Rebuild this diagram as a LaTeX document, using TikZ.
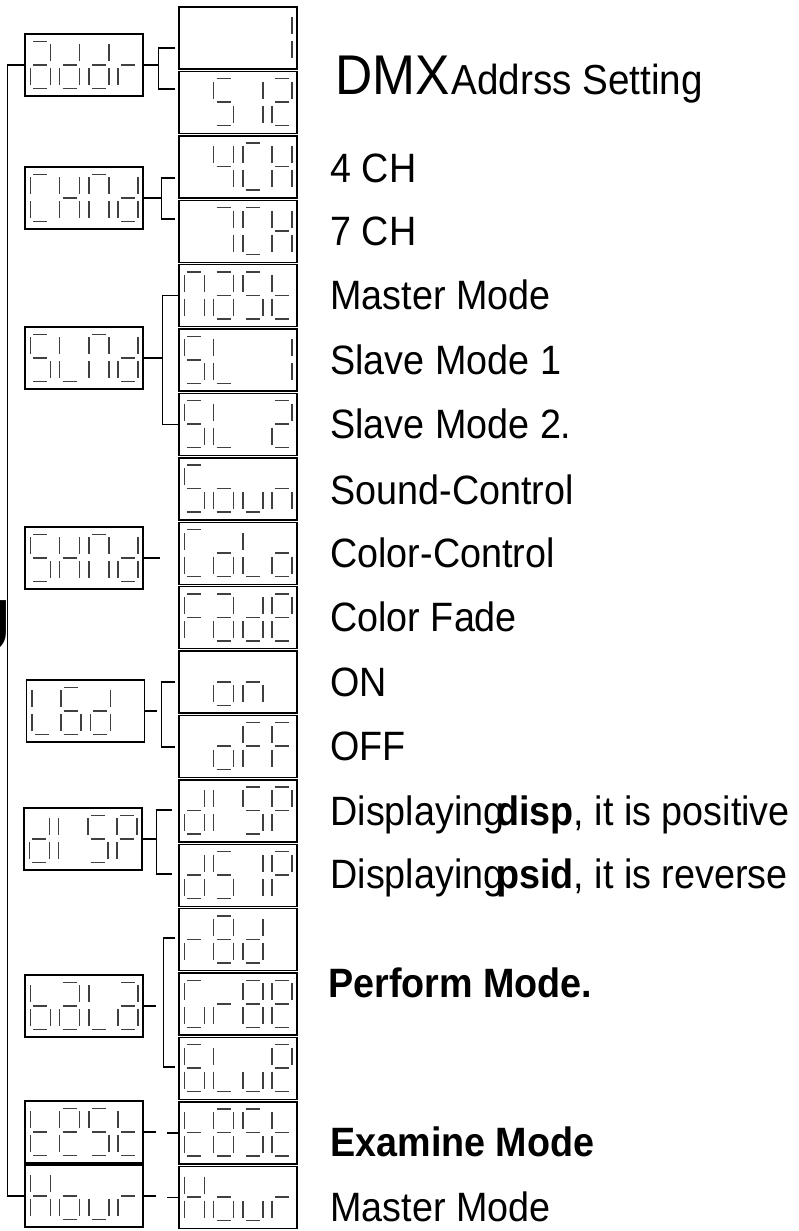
\documentclass[tikz,border=0pt]{standalone}
\usepackage{fontspec}
\setmainfont[FakeStretch=0.92]{Liberation Sans}
\usetikzlibrary{calc}

% segments of one seven-segment digit, measured from the digit's top left
\newcommand{\lcdsega}{\draw[seg] (3,8) -- (17,8);}
\newcommand{\lcdsegb}{\draw[seg] (20,11) -- (20,28);}
\newcommand{\lcdsegc}{\draw[seg] (20,35) -- (20,52);}
\newcommand{\lcdsegd}{\draw[seg] (3,55) -- (17,55);}
\newcommand{\lcdsege}{\draw[seg] (0,35) -- (0,52);}
\newcommand{\lcdsegf}{\draw[seg] (0,11) -- (0,28);}
\newcommand{\lcdsegg}{\draw[seg] (3,31.5) -- (17,31.5);}
\newcommand{\lcdsegx}{}

% four digits into a display box
\newcommand{\lcdshow}[5]{%
  \foreach \segs [count=\k from 0] in {{#2},{#3},{#4},{#5}} {
    \begin{scope}[shift={($(#1.north west)+(6+29.3*\k,0)$)}]
      \foreach \s in \segs {\csname lcdseg\s\endcsname}
    \end{scope}
  }%
}

\begin{document}
\begin{tikzpicture}[x=0.5pt, y=-0.5pt,
    lcd/.style={draw, line width=0.7pt, minimum width=59pt, minimum height=31pt, inner sep=0pt},
    seg/.style={draw=black!75, line width=0.75pt},
    wire/.style={line width=0.7pt},
    short/.style={shorten <=1.5pt, shorten >=1.5pt},
    desc/.style={anchor=base west, inner sep=0pt, font=\fontsize{20.5}{24}\selectfont}]
    \useasboundingbox (0,0) rectangle (798,1231);

    % Menu displays
    \node[lcd] (addr) at (84,65) {};
    \node[lcd] (chnd) at (84,198) {};
    \node[lcd] (slnd) at (84,358) {};
    \node[lcd] (shnd) at (84,558) {};
    \node[lcd] (led) at (85.5,711) {};
    \node[lcd] (disp) at (83,839) {};
    \node[lcd] (bala) at (84,1006) {};
    \node[lcd] (test) at (84,1132) {};
    \node[lcd] (hour) at (84,1196) {};

    \lcdshow{addr}{a,b,c,d,e,g}{b,c,d,e,g}{b,c,d,e,g}{e,g}
    \lcdshow{chnd}{a,d,e,f}{b,c,e,f,g}{a,b,c,e,f}{b,c,d,e,g}
    \lcdshow{slnd}{a,c,d,f,g}{d,e,f}{a,b,c,e,f}{b,c,d,e,g}
    \lcdshow{shnd}{a,c,d,f,g}{b,c,e,f,g}{a,b,c,e,f}{b,c,d,e,g}
    \lcdshow{led}{d,e,f}{a,c,d,e,f,g}{b,c,d,e,g}{x}
    \lcdshow{disp}{b,c,d,e,g}{e,f}{a,c,d,f,g}{a,b,e,f,g}
    \lcdshow{bala}{c,d,e,f,g}{a,b,c,d,e,g}{d,e,f}{a,b,c,d,e,g}
    \lcdshow{test}{d,e,f,g}{a,b,d,e,f,g}{a,c,d,f,g}{d,e,f,g}
    \lcdshow{hour}{b,c,e,f,g}{c,d,e,g}{c,d,e}{e,g}

    % Setting displays
    \node[lcd] (addr1) at (238,38) {};
    \node[lcd] (addr2) at (238,102.4) {};
    \node[lcd] (chnd1) at (238,166.8) {};
    \node[lcd] (chnd2) at (238,231.2) {};
    \node[lcd] (slnd1) at (238,295.6) {};
    \node[lcd] (slnd2) at (238,360) {};
    \node[lcd] (slnd3) at (238,424.4) {};
    \node[lcd] (shnd1) at (238,488.8) {};
    \node[lcd] (shnd2) at (238,553.2) {};
    \node[lcd] (shnd3) at (238,617.6) {};
    \node[lcd] (led1) at (238,682) {};
    \node[lcd] (led2) at (238,746.4) {};
    \node[lcd] (disp1) at (238,810.8) {};
    \node[lcd] (disp2) at (238,875.2) {};
    \node[lcd] (bala1) at (238,939.6) {};
    \node[lcd] (bala2) at (238,1004) {};
    \node[lcd] (bala3) at (238,1068.4) {};
    \node[lcd] (test1) at (238,1132.8) {};
    \node[lcd] (hour1) at (238,1197.2) {};

    \lcdshow{addr1}{x}{x}{x}{b,c}
    \lcdshow{addr2}{x}{a,c,d,f,g}{b,c}{a,b,d,e,g}
    \lcdshow{chnd1}{x}{b,c,f,g}{a,d,e,f}{b,c,e,f,g}
    \lcdshow{chnd2}{x}{a,b,c}{a,d,e,f}{b,c,e,f,g}
    \lcdshow{slnd1}{a,b,c,e,f}{a,b,c,d,e,g}{a,c,d,f,g}{d,e,f,g}
    \lcdshow{slnd2}{a,c,d,f,g}{d,e,f}{x}{b,c}
    \lcdshow{slnd3}{a,c,d,f,g}{d,e,f}{x}{a,b,d,e,g}
    \lcdshow{shnd1}{a,c,d,f,g}{c,d,e,g}{c,d,e}{c,e,g}
    \lcdshow{shnd2}{a,d,e,f}{c,d,e,g}{d,e,f}{c,d,e,g}
    \lcdshow{shnd3}{a,e,f,g}{a,b,c,d,e,g}{b,c,d,e,g}{a,b,d,e,f,g}
    \lcdshow{led1}{x}{c,d,e,g}{c,e,g}{x}
    \lcdshow{led2}{x}{c,d,e,g}{a,e,f,g}{a,e,f,g}
    \lcdshow{disp1}{b,c,d,e,g}{e,f}{a,c,d,f,g}{a,b,e,f,g}
    \lcdshow{disp2}{b,c,d,e,g}{a,c,d,f,g}{b,c}{a,b,e,f,g}
    \lcdshow{bala1}{e,g}{a,b,c,d,e,f,g}{b,c,d,e,g}{x}
    \lcdshow{bala2}{a,c,d,e,f}{e,g}{a,b,c,d,e,f,g}{a,b,d,e,f,g}
    \lcdshow{bala3}{a,c,d,e,f,g}{d,e,f}{c,d,e}{a,b,d,e,f,g}
    \lcdshow{test1}{d,e,f,g}{a,b,c,d,e,f,g}{a,c,d,f,g}{d,e,f,g}
    \lcdshow{hour1}{b,c,e,f,g}{c,d,e,g}{c,d,e}{e,g}

    % Spine
    \draw[wire] (addr.west) -- ++(-17,0) |- (hour.west);
    \node[anchor=base east, inner sep=0pt, font=\fontsize{37}{40}\selectfont] (menu) at (12,651) {U};

    % Branches
    \draw[wire] (addr.east) -- ++(15,0) coordinate (addrj);
    \draw[wire, short] (addr1.west |- 0,48) -| (addrj) |- (addr2.west |- 0,89);
    \draw[wire] (chnd.east) -- ++(18,0) coordinate (chndj);
    \draw[wire, short] (chnd1.west |- 0,178) -| (chndj) |- (chnd2.west |- 0,219);
    \draw[wire] (slnd.east) -- ++(19,0) coordinate (slndj);
    \draw[wire] (slnd1.west) -| (slndj) |- (slnd3.west);
    \draw[wire] (shnd.east) -- ++(16,0);
    \draw[wire] (led.east) -- ++(12,0);
    \coordinate (ledj) at ($(led.east)+(16,0)$);
    \draw[wire, short] (led1.west |- 0,682) -| (ledj) |- (led2.west |- 0,747);
    \draw[wire] (disp.east) -- ++(14,0) coordinate (dispj);
    \draw[wire, shorten <=3pt, shorten >=3pt] (disp1.west |- 0,810) -| (dispj) |- (disp2.west |- 0,874);
    \draw[wire] (bala.east) -- ++(12,0);
    \coordinate (balaj) at ($(bala.east)+(20,0)$);
    \draw[wire, short] (bala1.west |- 0,938) -| (balaj) |- (bala3.west |- 0,1067);
    \draw[wire] (test.east) -- ++(12,0);
    \draw[wire] (test1.west) -- ++(-11,0);
    \draw[wire] (hour.east) -- ++(12,0);
    \draw[wire] (hour1.west) -- ++(-11,0);

    % Descriptions
    \node[desc, font=\fontsize{28}{30}\selectfont] (dmx) at (335,94) {DMX};
    \node[desc, font=\fontsize{21}{24}\selectfont] (dmxset) at (451,94) {Addrss Setting};
    \node[desc] (ch4) at (330,182) {4 CH};
    \node[desc] (ch7) at (330,245) {7 CH};
    \node[desc] (master) at (330,309) {Master Mode};
    \node[desc] (slave1) at (330,374) {Slave Mode 1};
    \node[desc] (slave2) at (330,438) {Slave Mode 2.};
    \node[desc] (sound) at (330,504) {Sound-Control};
    \node[desc] (color) at (330,567) {Color-Control};
    \node[desc] (fade) at (330,631) {Color Fade};
    \node[desc] (ledon) at (330,696) {ON};
    \node[desc] (ledoff) at (330,760) {OFF};
    \node[desc] (pos) at (330,825) {Displaying\kern-4pt\textbf{disp}, it is positive};
    \node[desc] (rev) at (330,888) {Displaying\kern-4pt\textbf{psid}, it is reverse};
    \node[desc] (perform) at (328,997) {\textbf{Perform Mode.}};
    \node[desc] (examine) at (330,1156) {\textbf{Examine Mode}};
    \node[desc] (master2) at (330,1221) {Master Mode};
\end{tikzpicture}
\end{document}
